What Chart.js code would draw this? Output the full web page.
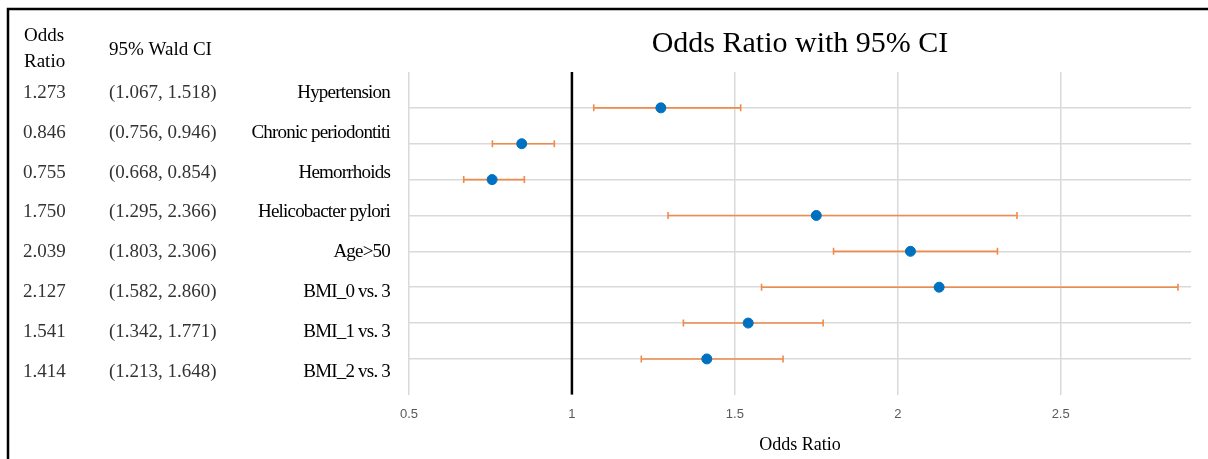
<!DOCTYPE html>
<html>
<head>
<meta charset="utf-8">
<script src="https://cdn.jsdelivr.net/npm/chart.js@4"></script>
<style>
  body { margin: 0; background: #fff; }
  #wrap { width: 1208px; height: 459px; position: relative; }
</style>
</head>
<body>
<div id="wrap"><canvas id="chart"></canvas></div>
<script>
// данные: факторы, OR и 95% Wald CI
const categories = ['Hypertension', 'Chronic periodontiti', 'Hemorrhoids', 'Helicobacter pylori',
    'Age>50', 'BMI_0 vs. 3', 'BMI_1 vs. 3', 'BMI_2 vs. 3'];
const oddsRatio = [1.273, 0.846, 0.755, 1.750, 2.039, 2.127, 1.541, 1.414];
const ciLow = [1.067, 0.756, 0.668, 1.295, 1.803, 1.582, 1.342, 1.213];
const ciHigh = [1.518, 0.946, 0.854, 2.366, 2.306, 2.860, 1.771, 1.648];
const xTicks = [0.5, 1, 1.5, 2, 2.5];
const refLine = 1;

const n = categories.length;
const rowY = i => n - i;   // первая строка сверху

const serif = '"Liberation Serif", "Times New Roman", serif';
const orange = '#F08A4B';
const blue = '#0070C0';

// усы доверительных интервалов — по одному датасету на строку
const ciSets = categories.map((c, i) => ({
    type: 'line',
    label: c,
    data: [{ x: ciLow[i], y: rowY(i) }, { x: ciHigh[i], y: rowY(i) }],
    borderColor: orange,
    borderWidth: 1.6,
    pointStyle: 'line',
    rotation: 90,
    pointRadius: 3.5,
    pointBorderColor: orange,
    pointBorderWidth: 1.6,
    order: 2
}));

// таблица слева + рамка
const tablePlugin = {
    id: 'table',
    beforeDraw(chart) {
        const ctx = chart.ctx;
        ctx.save();
        ctx.strokeStyle = '#000';
        ctx.lineWidth = 2.5;
        ctx.beginPath();
        ctx.moveTo(8, 459);
        ctx.lineTo(8, 9);
        ctx.lineTo(1208, 9);
        ctx.stroke();
        ctx.restore();
    },
    afterDraw(chart) {
        const ctx = chart.ctx;
        ctx.save();
        ctx.fillStyle = '#000';
        ctx.textBaseline = 'middle';
        ctx.font = '19px ' + serif;
        ctx.textAlign = 'left';
        ctx.fillText('Odds', 24, 36);
        ctx.fillText('Ratio', 24, 62);
        ctx.fillText('95% Wald CI', 109, 50);
        for (let i = 0; i < n; i++) {
            const y = 93 + i * 39.8;
            ctx.textAlign = 'left';
            ctx.fillStyle = '#333';
            ctx.letterSpacing = '0px';
            ctx.fillText(oddsRatio[i].toFixed(3), 23, y);
            ctx.fillText('(' + ciLow[i].toFixed(3) + ', ' + ciHigh[i].toFixed(3) + ')', 109, y);
            ctx.fillStyle = '#000';
            ctx.textAlign = 'right';
            ctx.letterSpacing = '-0.8px';
            ctx.fillText(categories[i], 390, y);
        }
        ctx.restore();
    }
};

const ctx = document.getElementById('chart').getContext('2d');

new Chart(ctx, {
    data: {
        datasets: [
            {
                type: 'scatter',
                label: 'Odds Ratio',
                data: oddsRatio.map((v, i) => ({ x: v, y: rowY(i) })),
                backgroundColor: blue,
                borderColor: blue,
                pointRadius: 5,
                order: 0
            },
            {
                type: 'line',
                label: 'ref',
                data: [{ x: refLine, y: 0 }, { x: refLine, y: n + 1 }],
                borderColor: '#000',
                borderWidth: 2.5,
                pointRadius: 0,
                order: 1
            },
            ...ciSets
        ]
    },
    options: {
        responsive: true,
        maintainAspectRatio: false,
        animation: false,
        layout: { padding: { left: 409, right: 17, top: 0, bottom: 0 } },
        plugins: {
            legend: { display: false },
            tooltip: { enabled: false },
            title: {
                display: true,
                text: 'Odds Ratio with 95% CI',
                color: '#000',
                font: { family: serif, size: 30, weight: 'normal' },
                padding: { top: 26, bottom: 10 }
            }
        },
        scales: {
            x: {
                type: 'linear',
                min: 0.5,
                max: 2.9,
                afterBuildTicks: scale => { scale.ticks = xTicks.map(v => ({ value: v })); },
                ticks: {
                    color: '#595959',
                    font: { family: '"Liberation Sans", Arial, sans-serif', size: 13 },
                    padding: 12,
                    maxRotation: 0,
                    callback: v => String(v)
                },
                grid: { color: '#d9d9d9', lineWidth: 1.5, drawTicks: false },
                border: { display: false },
                title: {
                    display: true,
                    text: 'Odds Ratio',
                    color: '#000',
                    font: { family: serif, size: 18 },
                    padding: { top: 0, bottom: 3 }
                }
            },
            y: {
                type: 'linear',
                min: 0,
                max: n + 1,
                afterBuildTicks: scale => { scale.ticks = categories.map((c, i) => ({ value: rowY(i) })); },
                ticks: { display: false },
                grid: { color: '#d9d9d9', lineWidth: 1.5, drawTicks: false },
                border: { display: false }
            }
        }
    },
    plugins: [tablePlugin]
});
</script>
</body>
</html>
